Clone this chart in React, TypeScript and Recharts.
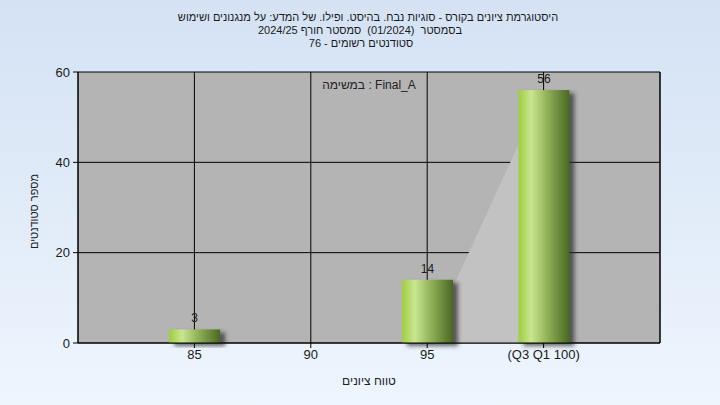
import React from 'react';
import { ComposedChart, Bar, Area, XAxis, YAxis, CartesianGrid, LabelList } from 'recharts';

// grade buckets and number of students in each
const gradeRanges = [85, 90, 95, 100];
const studentCounts = [3, 0, 14, 56];
const yTicks = [0, 20, 40, 60];

// light grey wedge: from the baseline at 95 up to the top of the 100 bar
const shadeValues = [undefined, undefined, 0, 56];

const titleLines = [
  'היסטוגרמת ציונים בקורס - סוגיות נבח. בהיסט. ופילו. של המדע: על מנגנונים ושימוש',
  'בסמסטר  (01/2024)  סמסטר חורף 2024/25',
  'סטודנטים רשומים - 76',
];
const legendText = 'במשימה : Final_A';
const xTitle = 'טווח ציונים';
const yTitle = 'מספר סטודנטים';

const chartData = gradeRanges.map((grade, i) => ({
  grade,
  count: studentCounts[i],
  shade: shadeValues[i],
}));

const font = "'Liberation Sans', Arial, 'DejaVu Sans', sans-serif";

const CylinderBar = (props: any) => {
  const { x, y, width, height } = props;
  if (!height || height <= 0) return null;
  return <rect x={x} y={y} width={width} height={height} fill='url(#barGrad)' filter='url(#barShadow)' />;
};

export default function App() {
  return (
    <div
      style={{
        position: 'absolute',
        left: 0,
        top: 0,
        width: 720,
        height: 405,
        background: 'linear-gradient(#d4e2f4, #eef5fd)',
        fontFamily: font,
        color: '#1a1a1a',
      }}
    >
      <ComposedChart
        width={720}
        height={405}
        data={chartData}
        margin={{ top: 72, right: 30, left: 48, bottom: 32 }}
        style={{ position: 'absolute', left: 0, top: 0 }}
      >
        <defs>
          <linearGradient id='barGrad' x1='0' y1='0' x2='1' y2='0'>
            <stop offset='0%' stopColor='#9fcd3e' />
            <stop offset='25%' stopColor='#c9e691' />
            <stop offset='55%' stopColor='#93b45a' />
            <stop offset='100%' stopColor='#4b6722' />
          </linearGradient>
          <filter id='barShadow' x='-20%' y='-20%' width='160%' height='150%'>
            <feDropShadow dx='5' dy='3' stdDeviation='2' floodColor='#2b2b2b' floodOpacity='0.7' />
          </filter>
        </defs>
        <CartesianGrid stroke='#000' strokeWidth={1} fill='#b4b4b4' fillOpacity={1} yAxisId='left' />
        <XAxis
          dataKey='grade'
          type='number'
          domain={[80, 105]}
          ticks={gradeRanges}
          interval={0}
          allowDataOverflow
          tickFormatter={(v: number) => (v === 100 ? '(Q3 Q1 100)' : String(v))}
          axisLine={{ stroke: '#000' }}
          tickLine={{ stroke: '#000' }}
          tickSize={5}
          tick={{ fill: '#1a1a1a', fontSize: 13 }}
          height={30}
          label={{ value: xTitle, position: 'center', dy: 23, fill: '#222', fontSize: 12 }}
        />
        <YAxis
          yAxisId='left'
          domain={[0, 60]}
          ticks={yTicks}
          width={30}
          axisLine={{ stroke: '#000' }}
          tickLine={{ stroke: '#000' }}
          tickSize={5}
          tickMargin={3}
          tick={{ fill: '#1a1a1a', fontSize: 13 }}
          label={{ value: yTitle, angle: -90, position: 'center', dx: -29, dy: 4, fill: '#222', fontSize: 11 }}
        />
        <YAxis
          yAxisId='right'
          orientation='right'
          domain={[0, 60]}
          ticks={yTicks}
          width={30}
          axisLine={{ stroke: '#000' }}
          tickLine={{ stroke: '#000' }}
          tickSize={5}
          tickMargin={3}
          tick={{ fill: '#1a1a1a', fontSize: 13 }}
        />
        <Area
          yAxisId='left'
          dataKey='shade'
          type='linear'
          stroke='none'
          fill='#c2c2c2'
          fillOpacity={1}
          isAnimationActive={false}
        />
        <Bar yAxisId='left' dataKey='count' barSize={51} shape={CylinderBar} isAnimationActive={false}>
          <LabelList
            dataKey='count'
            position='top'
            offset={7}
            fill='#1a1a1a'
            fontSize={12}
            formatter={(v: any) => (v ? v : '')}
          />
        </Bar>
      </ComposedChart>
      {titleLines.map((line, i) => (
        <div
          key={i}
          style={{
            position: 'absolute',
            top: 11 + i * 13,
            left: [8, 0, 1][i],
            width: 720,
            textAlign: 'center',
            direction: 'rtl',
            fontSize: 11,
            lineHeight: '13px',
            whiteSpace: 'pre',
          }}
        >
          {line}
        </div>
      ))}
      <div
        style={{
          position: 'absolute',
          top: 78,
          left: 78,
          width: 582,
          textAlign: 'center',
          fontSize: 12,
          lineHeight: '14px',
          color: '#222',
        }}
      >
        {legendText}
      </div>
    </div>
  );
}
